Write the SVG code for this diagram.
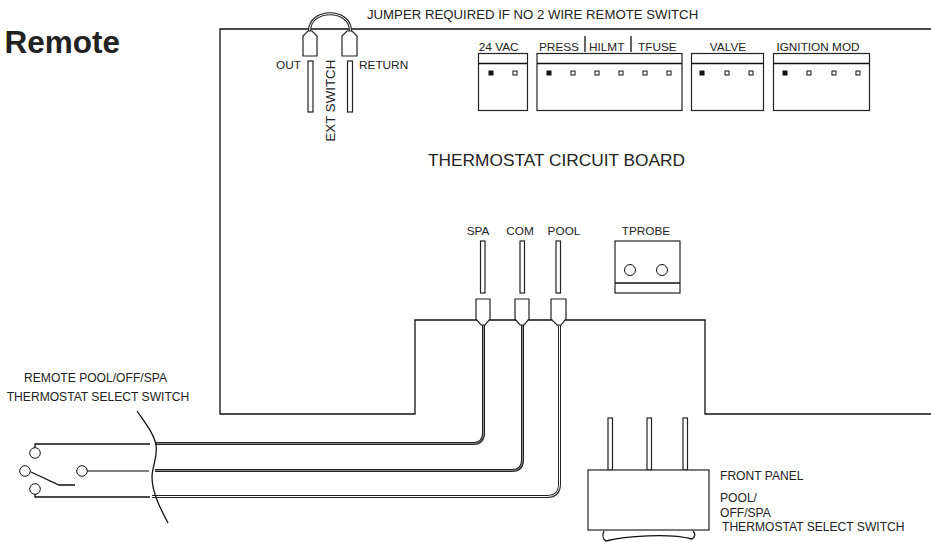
<svg xmlns="http://www.w3.org/2000/svg" width="931" height="542" viewBox="0 0 931 542">
<style>
text{font-family:"Liberation Sans",Arial,sans-serif;font-size:11.8px;fill:#222}
.s{fill:none;stroke:#111;stroke-width:1.3}
.b{fill:#fff;stroke:#222;stroke-width:1.2}
.f{fill:#111;stroke:#111;stroke-width:1}
.o{fill:#fff;stroke:#111;stroke-width:1}
.w{fill:none;stroke:#222;stroke-width:3}
.g{fill:none;stroke:#888;stroke-width:1}
.h{fill:none;stroke:#fff;stroke-width:1}
.c{font-size:12.1px}
</style>
<rect width="931" height="542" fill="#fff"/>
<text x="120" y="53" text-anchor="end" style="font-size:31.5px;font-weight:bold">Remote</text>
<g id="board"><path class="s" d="M931 29H220V414H415V320H705V414H931"/><text x="428" y="166" style="font-size:17.3px">THERMOSTAT CIRCUIT BOARD</text></g>
<g id="connectors">
<path class="w" d="M155 443.500H473Q483.500 443.500 483.500 433V322"/><path class="g" d="M155 443.500H473Q483.500 443.500 483.500 433V322"/>
<path class="w" d="M155 470.500H512Q522.500 470.500 522.500 460V322"/><path class="g" d="M155 470.500H512Q522.500 470.500 522.500 460V322"/>
<path class="w" d="M152 496.500H547Q559.500 496.500 559.500 484V322"/><path class="h" d="M152 496.500H547Q559.500 496.500 559.500 484V322"/>
<path class="s" d="M35 448V444H150M35 494V497H150M31 472L59 485H75"/>
<path fill="none" stroke="#555" stroke-width="1.600" d="M87 471H149"/>
<path class="w" d="M309.500 31C309.500 8 350.500 8 350.500 31"/>
<path class="h" d="M309.500 31C309.500 8 350.500 8 350.500 31"/>
</g>
<g id="jumper">
<text x="367" y="19" style="font-size:13.2px">JUMPER REQUIRED IF NO 2 WIRE REMOTE SWITCH</text>
<path class="b" d="M303 56V36L308 31H312L317 36V56Z"/>
<path class="b" d="M342 56V36L347 31H352L357 36V56Z"/>
</g>
<g id="ext-switch">
<rect class="b" x="308" y="61" width="5" height="51"/><rect class="b" x="347.500" y="61" width="5" height="51"/>
<text x="301" y="69" text-anchor="end">OUT</text>
<text transform="translate(335 141.500) rotate(-90)" style="font-size:13.300px">EXT SWITCH</text>
<text x="359" y="69">RETURN</text>
</g>
<g id="j-24vac"><rect class="b" x="478.500" y="53.500" width="49" height="57"/><path class="s" d="M478 63.500H527"/><rect class="f" x="489" y="71" width="4" height="4"/><rect class="o" x="513" y="71" width="4" height="4"/><text x="498.700" y="51" text-anchor="middle">24 VAC</text></g>
<g id="j-press"><rect class="b" x="537" y="53.500" width="145" height="57"/><path class="s" d="M537 63.500H682M585 36V52M631 36V52"/>
<rect class="f" x="547" y="71" width="4" height="4"/><rect class="o" x="571" y="71" width="4" height="4"/><rect class="o" x="595" y="71" width="4" height="4"/><rect class="o" x="619" y="71" width="4" height="4"/><rect class="o" x="643" y="71" width="4" height="4"/><rect class="o" x="667" y="71" width="4" height="4"/>
<text x="539" y="51">PRESS</text><text x="589" y="51">HILMT</text><text x="638" y="51">TFUSE</text></g>
<g id="j-valve"><rect class="b" x="691.500" y="53.500" width="72" height="57"/><path class="s" d="M691 63.500H763"/><rect class="f" x="700" y="71" width="4" height="4"/><rect class="o" x="725" y="71" width="4" height="4"/><rect class="o" x="749" y="71" width="4" height="4"/><text x="728" y="51" text-anchor="middle">VALVE</text></g>
<g id="j-ignition"><rect class="b" x="773.500" y="53.500" width="96" height="57"/><path class="s" d="M773 63.500H869"/><rect class="f" x="783" y="71" width="4" height="4"/><rect class="o" x="807" y="71" width="4" height="4"/><rect class="o" x="832" y="71" width="4" height="4"/><rect class="o" x="856" y="71" width="4" height="4"/><text x="818" y="51" text-anchor="middle">IGNITION MOD</text></g>
<g id="spa"><rect class="b" x="480.500" y="241" width="4.500" height="52"/><path class="b" d="M476 299H490V319L485 325H481L476 319Z"/><text x="478" y="234.500" text-anchor="middle">SPA</text></g>
<g id="com"><rect class="b" x="520" y="241" width="4.500" height="52"/><path class="b" d="M515 299H529V319L524 325H520L515 319Z"/><text x="520" y="234.500" text-anchor="middle">COM</text></g>
<g id="pool"><rect class="b" x="556" y="241" width="4.500" height="52"/><path class="b" d="M551 299H566V319L561 325H557L551 319Z"/><text x="564" y="234.500" text-anchor="middle">POOL</text></g>
<g id="tprobe"><rect class="b" x="615" y="241" width="65" height="52"/><path class="s" d="M615 283H680"/><circle class="o" cx="630" cy="270" r="5.500"/><circle class="o" cx="662" cy="270" r="5.500"/><text x="646" y="234.500" text-anchor="middle">TPROBE</text></g>
<g id="remote-switch">
<text x="95.500" y="381.500" text-anchor="middle" class="c">REMOTE POOL/OFF/SPA</text>
<text x="98" y="401" text-anchor="middle" class="c">THERMOSTAT SELECT SWITCH</text>
<circle class="o" cx="35" cy="453" r="5.300"/><circle class="o" cx="25" cy="471" r="5.300"/><circle class="o" cx="82" cy="471" r="5.300"/><circle class="o" cx="35" cy="489" r="5.300"/>
<path class="s" d="M137 411C146 424 154 434 156 445C158 458 152 466 152 477C152 492 160 508 168 523"/>
</g>
<g id="front-panel">
<rect class="b" x="608" y="418" width="4.500" height="52"/><rect class="b" x="647" y="418" width="4.500" height="52"/><rect class="b" x="683" y="418" width="4.500" height="52"/>
<rect class="b" x="588" y="470" width="121" height="60"/>
<path class="s" d="M604 531C602 535 603 539 606 541C625 536 670 533 692 539C695 537 696 534 693 531"/>
<text x="720" y="480" class="c">FRONT PANEL</text><text x="720" y="502" class="c">POOL/</text><text x="720" y="517" class="c">OFF/SPA</text><text x="722" y="531" class="c">THERMOSTAT SELECT SWITCH</text>
</g>
</svg>
